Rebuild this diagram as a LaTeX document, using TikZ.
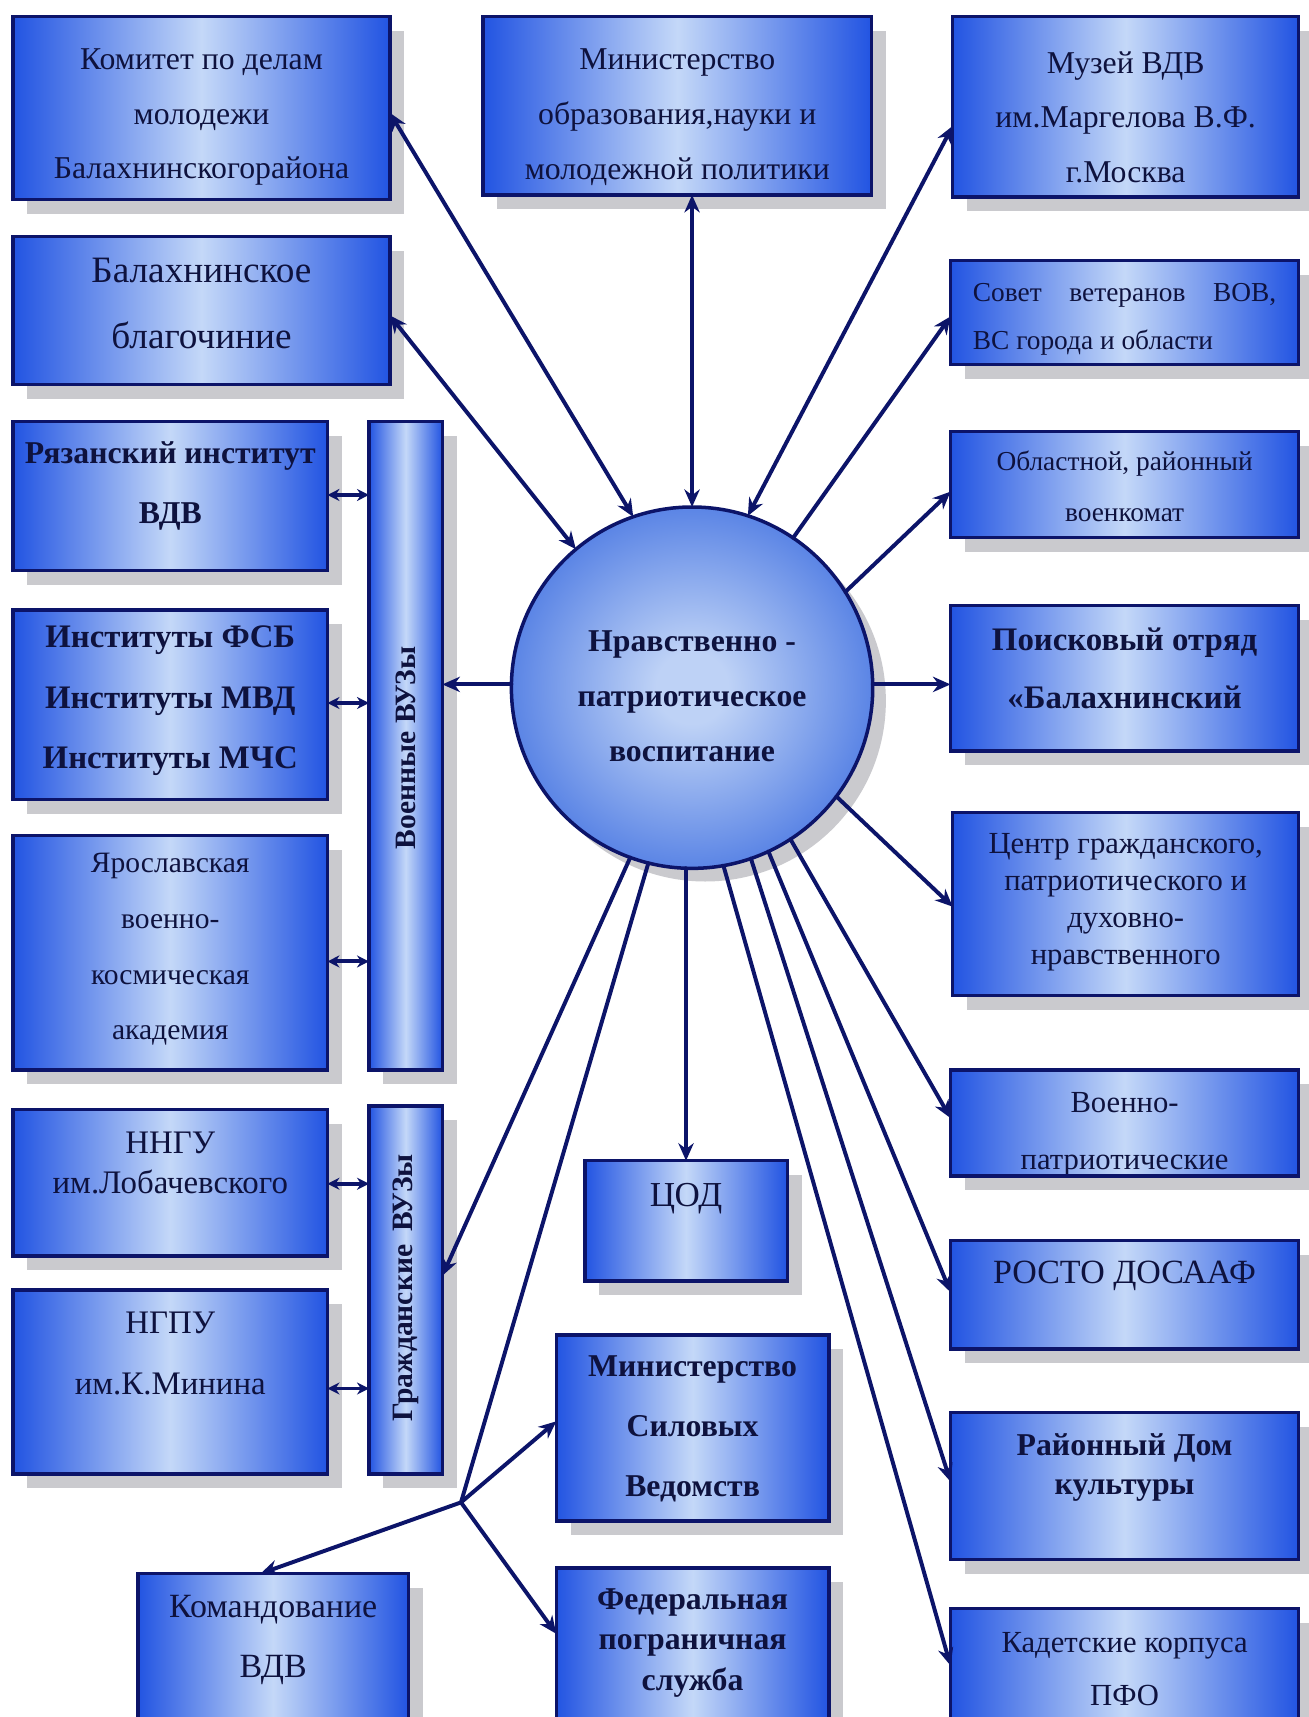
\documentclass[tikz,border=0pt]{standalone}
\usepackage{fontspec}
\setmainfont{Liberation Serif}
\usetikzlibrary{arrows.meta,shadows,calc}
\definecolor{boxblue}{RGB}{34,84,226}
\definecolor{boxlight}{RGB}{196,216,248}
\definecolor{navy}{RGB}{12,20,105}
\definecolor{txt}{RGB}{14,18,62}
\definecolor{shd}{RGB}{202,202,206}
\definecolor{circout}{RGB}{36,90,220}
\definecolor{circin}{RGB}{190,210,246}
\pgfdeclareradialshading{ballblue}{\pgfpoint{0bp}{0bp}}{color(0bp)=(circin); color(5bp)=(circin); color(36bp)=(circout); color(50bp)=(circout)}
\newcommand\fs[2]{\fontsize{#1}{#2}\selectfont}
\tikzset{
  box/.style={draw=navy, line width=1.6pt, left color=boxblue, right color=boxblue, middle color=boxlight,
    inner sep=0pt, outer sep=0pt,
    drop shadow={shadow xshift=6.5pt, shadow yshift=-6.5pt, fill=shd, opacity=1}},
  boxtext/.style={text=txt, align=center, inner sep=0pt},
  arr/.style={draw=navy, line width=1.8pt, line cap=round, -{Stealth[length=8pt,width=7pt]}},
  barr/.style={draw=navy, line width=1.8pt, {Stealth[length=8pt,width=7pt]}-{Stealth[length=8pt,width=7pt]}},
  darr/.style={draw=navy, line width=1.8pt, {Stealth[length=5.5pt,width=5.5pt]}-{Stealth[length=5.5pt,width=5.5pt]}},
  plain/.style={draw=navy, line width=1.8pt, line cap=round},
}
% name, x1, y1, x2, y2, text centre y, font, text
\newcommand\mybox[8]{%
  \node[box, minimum width={(#4-#2)*0.5pt}, minimum height={(#5-#3)*0.5pt}] (#1) at ({(#2+#4)/2},{(#3+#5)/2}) {};
  \node[boxtext, font=#7] (#1-t) at ({(#2+#4)/2},#6) {#8};
}
\begin{document}
\begin{tikzpicture}[x={(0.5pt,0)}, y={(0,-0.5pt)}]
\useasboundingbox (0,0) rectangle (1195,1568);
\fill[white] (0,0) rectangle (1195,1568);

% left column
\mybox{kom}{12}{15}{356}{182}{107}{\fs{14.5}{25}}{Комитет по делам\\молодежи\\Балахнинскогорайона}
\mybox{blag}{12}{216}{356}{351}{277}{\fs{17}{30}}{Балахнинское\\благочиние}
\mybox{ryaz}{12}{385}{299}{521}{444}{\bfseries\fs{14.5}{27.5}}{Рязанский институт\\ВДВ}
\mybox{inst}{12}{557}{299}{730}{640}{\bfseries\fs{15}{27.5}}{Институты ФСБ\\Институты МВД\\Институты МЧС}
\mybox{yar}{12}{763}{299}{977}{867}{\fs{13.5}{25.5}}{Ярославская\\военно-\\космическая\\академия}
\mybox{nngu}{12}{1013}{299}{1147}{1062}{\fs{15}{18.5}}{ННГУ\\им.Лобачевского}
\mybox{ngpu}{12}{1178}{299}{1346}{1236}{\fs{15}{27.5}}{НГПУ\\им.К.Минина}

% bars
\node[box, minimum width=33.5pt, minimum height=296pt] (voen) at (370.5,681) {};
\node[boxtext, rotate=90, font=\bfseries\fs{13.5}{16}] (voen-t) at (371,683) {Военные ВУЗы};
\node[box, minimum width=33.5pt, minimum height=168pt] (grazh) at (370.5,1178) {};
\node[boxtext, rotate=90, font=\bfseries\fs{13.5}{16}] (grazh-t) at (371,1176) {Гражданские\hspace{0.45em}ВУЗы};

% middle
\mybox{mino}{441}{15}{796}{178}{107}{\fs{14.5}{25}}{Министерство\\образования,науки и\\молодежной политики}
\mybox{cod}{534}{1060}{719}{1170}{1095}{\fs{16}{18}}{ЦОД}
\mybox{minsil}{508}{1219}{757}{1389}{1305}{\bfseries\fs{14.5}{27.5}}{Министерство\\Силовых\\Ведомств}
\mybox{fed}{508}{1432}{757}{1590}{1500}{\bfseries\fs{14.5}{18.5}}{Федеральная\\пограничная\\служба}
\mybox{kom2}{126}{1437}{373}{1590}{1498}{\fs{15.5}{27.5}}{Командование\\ВДВ}

% right column
\mybox{muz}{870}{15}{1186}{180}{107}{\fs{14.5}{25}}{Музей ВДВ\\им.Маргелова В.Ф.\\г.Москва}
\mybox{sov}{868}{238}{1186}{333}{288}{\fs{12.5}{23}}{\begin{tabular}{@{}l@{}}\makebox[138.5pt][s]{Совет ветеранов ВОВ,}\\[-1pt]ВС города и области\end{tabular}}
\mybox{vkom}{868}{394}{1186}{491}{444}{\fs{12.5}{23}}{Областной, районный\\военкомат}
\mybox{pois}{868}{553}{1186}{686}{610}{\bfseries\fs{15}{26.5}}{Поисковый отряд\\«Балахнинский}
\mybox{centr}{870}{742}{1186}{909}{824}{\fs{14}{17}}{Центр гражданского,\\патриотического и\\духовно-\\нравственного}
\node[box, minimum width=159pt, minimum height=48.5pt,
  path picture={\node[boxtext, font=\fs{14}{26}] (vp-t) at ($(path picture bounding box.center)+(0,10)$) {Военно-\\патриотические};}] (vp) at (1027,1025.5) {};
\mybox{rosto}{868}{1133}{1186}{1232}{1165}{\fs{15.5}{18}}{РОСТО ДОСААФ}
\mybox{rdk}{868}{1290}{1186}{1424}{1340}{\bfseries\fs{14.5}{17.5}}{Районный Дом\\культуры}
\mybox{kad}{868}{1469}{1186}{1590}{1524}{\fs{14}{24}}{Кадетские корпуса\\ПФО}

% centre circle
\node[circle, draw=navy, line width=1.6pt, minimum size=165pt, inner sep=0pt, outer sep=0pt, shading=ballblue,
  drop shadow={shadow xshift=6pt, shadow yshift=-6pt, fill=shd, opacity=1}] (circ) at (632,628) {};
\node[boxtext, font=\bfseries\fs{14.5}{25}] (circ-t) at (632,636) {Нравственно -\\патриотическое\\воспитание};

% connectors from the circle
\draw[barr] (circ.109.5) -- (kom.east |- 0,103);
\draw[barr] (circ.130.5) -- (blag.east |- 0,288);
\draw[barr] (circ.north) -- (circ.north |- mino.south);
\draw[barr] (circ.72.6) -- (muz.west |- 0,115);
\draw[arr] (circ.56) -- (sov.west |- 0,289);
\draw[arr] (circ.32) -- (vkom.west |- 0,449);
\draw[arr] (circ.east |- 0,625) -- (pois.west |- 0,625);
\draw[arr] (circ.-37.4) -- (centr.west |- 0,828);
\draw[arr] (circ.-57.3) -- (vp.west |- 0,1021);
\draw[arr] (circ.-65.6) -- (rosto.west |- 0,1180);
\draw[arr] (circ.-71.2) -- (rdk.west |- 0,1353);
\draw[arr] (circ.-80.3) -- (kad.west |- 0,1521);
\draw[arr] (cod.north |- circ.south) -- (cod.north);
\draw[arr] (circ.west |- 0,625) -- (voen.east |- 0,625);
\draw[arr] (circ.-110.5) -- (grazh.east |- 0,1165);
\coordinate (junc) at (421,1372);
\draw[plain] (circ.-104) -- (junc);
\draw[arr] (junc) -- (minsil.west |- 0,1298);
\draw[arr] (junc) -- (kom2.north -| 238,0);
\draw[arr] (junc) -- (fed.west |- 0,1492);

% small double arrows to the bars
\draw[darr] (ryaz.east |- 0,452) -- (voen.west |- 0,452);
\draw[darr] (inst.east |- 0,642) -- (voen.west |- 0,642);
\draw[darr] (yar.east |- 0,878) -- (voen.west |- 0,878);
\draw[darr] (nngu.east |- 0,1081) -- (grazh.west |- 0,1081);
\draw[darr] (ngpu.east |- 0,1268) -- (grazh.west |- 0,1268);
\end{tikzpicture}
\end{document}
